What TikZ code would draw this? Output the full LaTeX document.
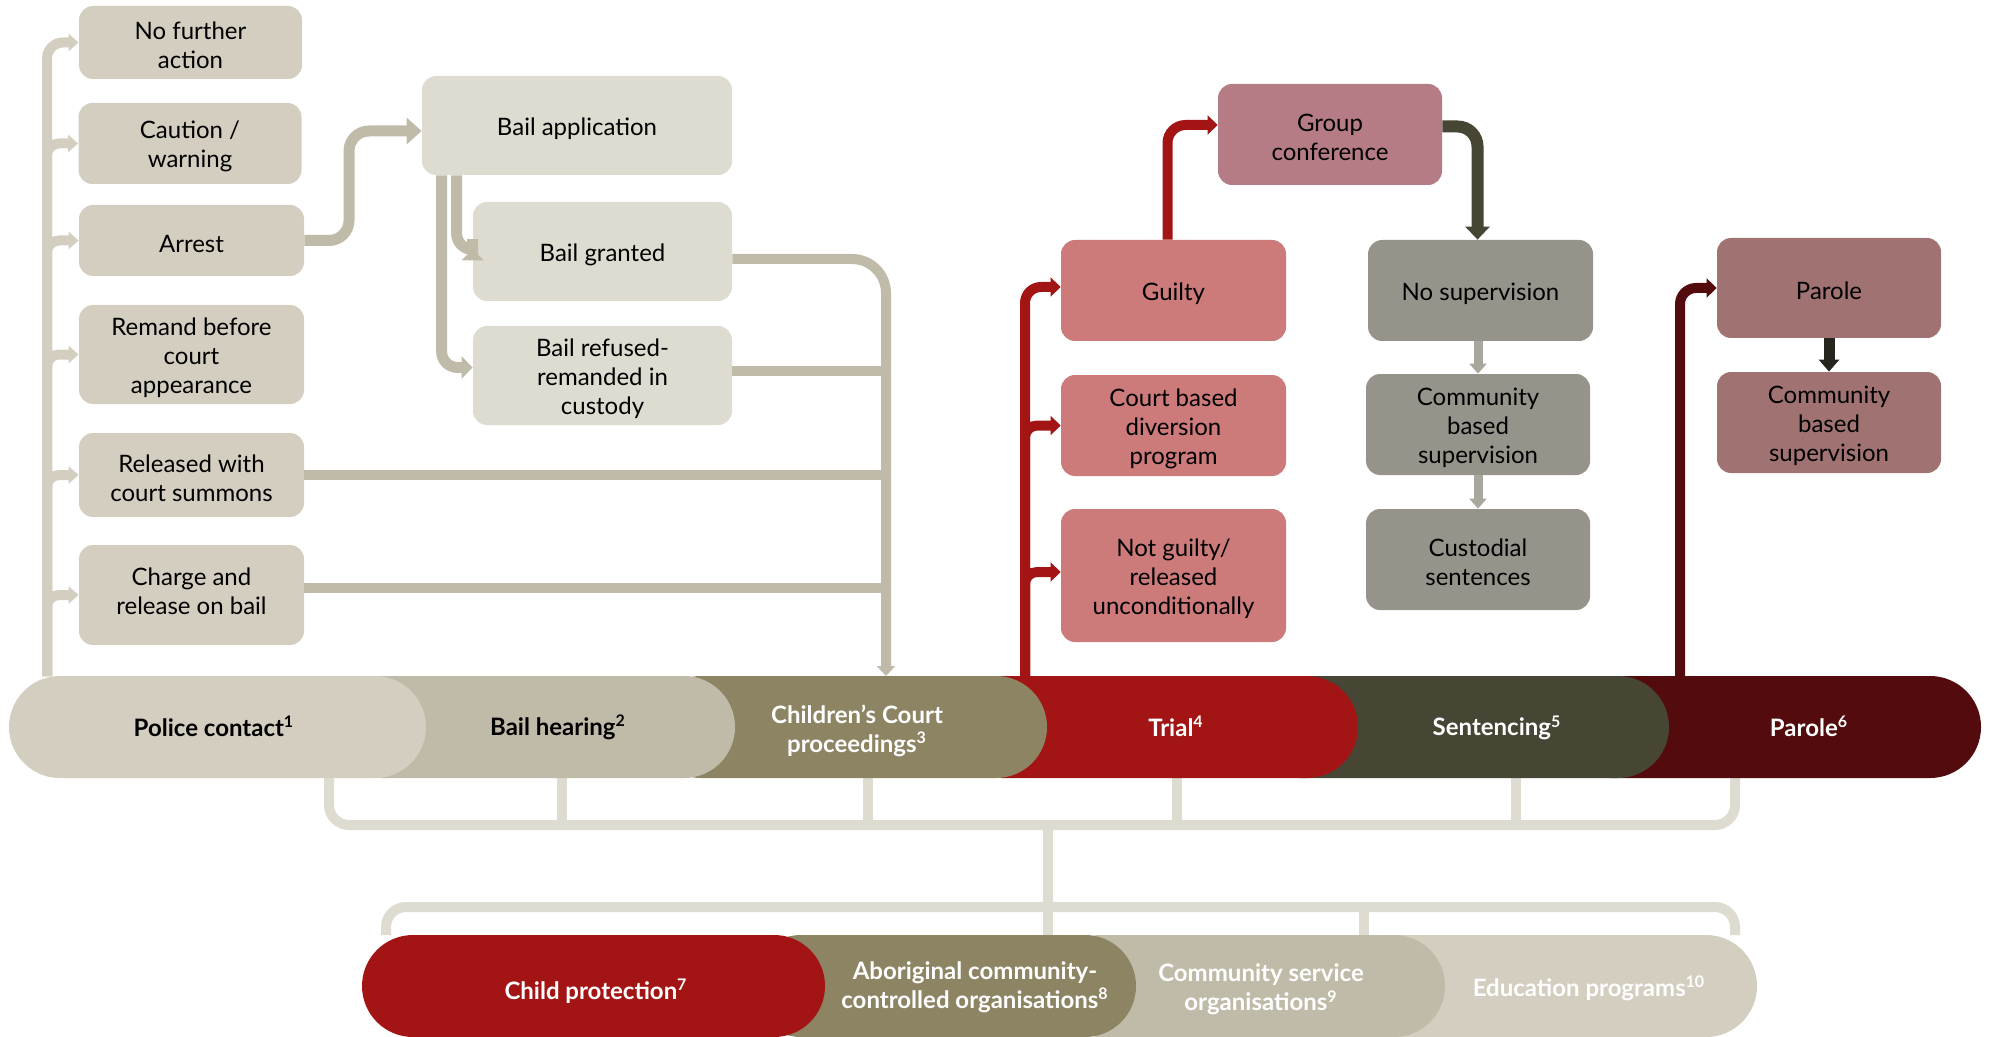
\documentclass[tikz,border=0pt]{standalone}
\usepackage{fontspec}
\setmainfont{Lato}
\usetikzlibrary{arrows.meta}
\definecolor{cPol}{HTML}{D3CEC0}
\definecolor{cBail}{HTML}{C0BBA8}
\definecolor{cCourt}{HTML}{8C8463}
\definecolor{cRed}{HTML}{A31515}
\definecolor{cSent}{HTML}{474533}
\definecolor{cPar}{HTML}{530B0D}
\definecolor{cLight}{HTML}{DEDBD0}
\definecolor{cPink}{HTML}{CC7A7A}
\definecolor{cGC}{HTML}{B57C85}
\definecolor{cGrey}{HTML}{96948A}
\definecolor{cGreyArr}{HTML}{A8A69D}
\definecolor{cParBox}{HTML}{A07372}
\definecolor{cDark}{HTML}{26261F}
\newcommand{\tp}{\rule{0pt}{12pt}}
\begin{document}
\begin{tikzpicture}[x=0.5pt,y=-0.5pt,
  box/.style={rounded corners=7pt, inner sep=0pt, align=center,
    font=\fontsize{12}{14.5}\selectfont, text=black},
  wA/.style={minimum width=112.5pt},
  plab/.style={font=\bfseries\fontsize{12}{14.5}\selectfont, align=center, inner sep=0pt},
  conn/.style={line width=5pt},
  tipS/.style={-{Triangle[length=5pt,width=8.5pt]}},
  tipM/.style={-{Triangle[length=5.5pt,width=11pt]}},
  tipR/.style={-{Triangle[length=5pt,width=9.5pt]}},
  brk/.style={line width=5pt, cLight},
  pill/.style={rounded corners=25.5pt}
]
\useasboundingbox (0,0) rectangle (1989,1037);

% ---------- brackets below main row ----------
\coordinate (b1) at (329,778);
\coordinate (b2) at (1735,778);
\coordinate (b3) at (386,935);
\coordinate (b4) at (1735,935);
\coordinate (bc) at (1048,825);
\coordinate (bd) at (1048,935);
\draw[brk, rounded corners=10pt] (b1) -- (329,825) -- (1735,825) -- (b2);
\draw[brk, rounded corners=10pt] (b3) -- (386,907) -- (1735,907) -- (b4);
\foreach \x in {562,868,1177,1516} \draw[brk] (\x,778) -- (\x,825);
\draw[brk] (bc) -- (bd);
\draw[brk] (1364,907) -- (1364,935);

% ---------- main row pills ----------
\fill[cPar, pill] (1560,676) rectangle (1981,778);
\fill[cSent, pill] (1250,676) rectangle (1669,778);
\fill[cRed, pill] (950,676) rectangle (1358,778);
\fill[cCourt, pill] (650,676) rectangle (1047,778);
\fill[cBail, pill] (330,676) rectangle (735,778);
\fill[cPol, pill] (9,676) rectangle (426,778);

\node[plab] (lpol) at (214,726) {Police contact\textsuperscript{1}};
\node[plab] (lbail) at (558,727) {Bail hearing\textsuperscript{2}};
\node[plab, text=white] (lcourt) at (857,731) {Children’s Court\\proceedings\textsuperscript{3}};
\node[plab, text=white] (ltrial) at (1176,726) {Trial\textsuperscript{4}};
\node[plab, text=white] (lsent) at (1497,728) {Sentencing\textsuperscript{5}};
\node[plab, text=white] (lpar) at (1809,726) {Parole\textsuperscript{6}};

% ---------- lower row pills ----------
\fill[cPol, pill] (1300,935) rectangle (1757,1037);
\fill[cBail, pill] (1050,935) rectangle (1445,1037);
\fill[cCourt, pill] (750,935) rectangle (1136,1037);
\fill[cRed, pill] (362,935) rectangle (825,1037);

\node[plab, text=white] (lchild) at (596,991.5) {Child protection\textsuperscript{7}};
\node[plab, text=white] (labor) at (975,987) {Aboriginal community-\\controlled organisations\textsuperscript{8}};
\node[plab, text=white] (lcomm) at (1261,989.5) {Community service\\organisations\textsuperscript{9}};
\node[plab, text=white] (ledu) at (1589,988.5) {Education programs\textsuperscript{10}};

% ---------- left column boxes ----------
\node[box, fill=cPol, minimum width=111.5pt, minimum height=36.5pt] (nfa) at (190.5,42.5) {\tp No further\\action};
\node[box, fill=cPol, minimum width=111.5pt, minimum height=40.5pt] (caution) at (190,143.5) {\tp Caution /\\warning};
\node[box, fill=cPol, wA, minimum height=35.5pt] (arrest) at (191.5,240.5) {\tp Arrest};
\node[box, fill=cPol, wA, minimum height=49.5pt] (remand) at (191.5,354.5) {\tp Remand before\\court\\appearance};
\node[box, fill=cPol, wA, minimum height=42pt] (released) at (191.5,475) {\tp Released with\\court summons};
\node[box, fill=cPol, wA, minimum height=50pt] (charge) at (191.5,595) {\tp Charge and\\release on bail\rule[-7pt]{0pt}{0pt}};

% ---------- bail boxes ----------
\node[box, fill=cLight, minimum width=155pt, minimum height=49.5pt] (bailapp) at (577,125.5) {\tp Bail application};
\node[box, fill=cLight, minimum width=129.5pt, minimum height=49.5pt] (granted) at (602.5,251.5) {\tp Bail granted};
\node[box, fill=cLight, minimum width=129.5pt, minimum height=49.5pt] (refused) at (602.5,375.5) {\tp Bail refused-\\remanded in\\custody};

% ---------- trial boxes ----------
\node[box, fill=cPink, wA, minimum height=50.5pt] (guilty) at (1173.5,290.5) {\tp Guilty};
\node[box, fill=cPink, wA, minimum height=50.5pt] (diversion) at (1173.5,425.5) {\tp Court based\\diversion\\program};
\node[box, fill=cPink, wA, minimum height=66.5pt] (notguilty) at (1173.5,575.5) {\tp Not guilty/\\released\\unconditionally};
\node[box, fill=cGC, minimum width=112pt, minimum height=50.5pt] (gc) at (1330,134.5) {\tp Group\\conference};

% ---------- sentencing boxes ----------
\node[box, fill=cGrey, wA, minimum height=50.5pt] (nosup) at (1480.5,290.5) {\tp No supervision};
\node[box, fill=cGrey, minimum width=112pt, minimum height=50.5pt] (commsup) at (1478,424.5) {\tp Community\\based\\supervision};
\node[box, fill=cGrey, minimum width=112pt, minimum height=50.5pt] (custodial) at (1478,559.5) {\tp Custodial\\sentences};

% ---------- parole boxes ----------
\node[box, fill=cParBox, minimum width=112pt, minimum height=50pt] (parole) at (1829,288) {\tp Parole};
\node[box, fill=cParBox, minimum width=112pt, minimum height=50.5pt] (parcomm) at (1829,422.5) {\tp Community\\based\\supervision};

% ---------- left trunk ----------
\coordinate (lt) at (47,676);
\draw[conn, cPol, rounded corners=8pt, tipS] (lt) |- (nfa.west);
\foreach \n in {caution,arrest,remand,released,charge}
  \draw[conn, cPol, rounded corners=6pt, tipS] (lt) |- (\n.west);

% ---------- arrest to bail application ----------
\coordinate (a1) at (349,131);
\draw[line width=5.5pt, cBail, rounded corners=10pt, -{Triangle[length=7.5pt,width=13pt]}]
  (arrest.east) -| (a1) -- (a1 -| bailapp.west);

% ---------- bail application to outcomes ----------
\coordinate (baA) at ([xshift=17.5pt]bailapp.south west);
\coordinate (baB) at ([xshift=10pt]bailapp.south west);
\coordinate (grW) at ([yshift=1pt]granted.west);
\coordinate (rfW) at ([yshift=4pt]refused.west);
\draw[line width=5.5pt, cBail, rounded corners=8pt, tipM] (baB) |- (rfW);
\draw[line width=5.5pt, cBail, rounded corners=8pt, tipM] (baA) |- (grW);

% ---------- to Children's Court ----------
\coordinate (ct) at (886,676);
\coordinate (grE) at ([yshift=-3.75pt]granted.east);
\coordinate (rfE) at ([yshift=2.25pt]refused.east);
\coordinate (rlE) at (released.east);
\coordinate (chE) at ([yshift=3.5pt]charge.east);
\draw[conn, cBail, rounded corners=17pt, -{Triangle[length=5pt,width=9pt]}] (grE) -| (ct);
\draw[conn, cBail] (rfE) -- (rfE -| ct);
\draw[conn, cBail] (rlE) -- (rlE -| ct);
\draw[conn, cBail] (chE) -- (chE -| ct);

% ---------- trial trunk ----------
\coordinate (rt) at (1025,676);
\coordinate (gW) at ([yshift=1.75pt]guilty.west);
\coordinate (ngW) at ([yshift=1.75pt]notguilty.west);
\draw[conn, cRed, rounded corners=8pt, tipR] (rt) |- (gW);
\draw[conn, cRed, rounded corners=6pt, tipR] (rt) |- (diversion.west);
\draw[conn, cRed, rounded corners=6pt, tipR] (rt) |- (ngW);

% ---------- guilty to group conference ----------
\coordinate (gN) at ([xshift=-3pt]guilty.north);
\coordinate (gcW) at ([yshift=4.75pt]gc.west);
\draw[conn, cRed, rounded corners=9pt, tipR] (gN) |- (gcW);

% ---------- group conference to no supervision ----------
\coordinate (gcE) at ([yshift=4pt]gc.east);
\coordinate (nsN) at ([xshift=-1.5pt]nosup.north);
\draw[line width=6pt, cSent, rounded corners=10pt, -{Triangle[length=6.5pt,width=12pt]}] (gcE) -| (nsN);

% ---------- sentencing chain ----------
\draw[line width=4.5pt, cGreyArr, tipS] (commsup.north |- nosup.south) -- (commsup.north);
\draw[line width=4.5pt, cGreyArr, tipS] (commsup.south) -- (custodial.north);

% ---------- parole ----------
\coordinate (prt) at (1680,676);
\draw[conn, cPar, rounded corners=8pt, tipR] (prt) |- (parole.west);
\draw[line width=5.5pt, cDark, -{Triangle[length=6pt,width=10pt]}] (parole.south) -- (parcomm.north);
\end{tikzpicture}
\end{document}
